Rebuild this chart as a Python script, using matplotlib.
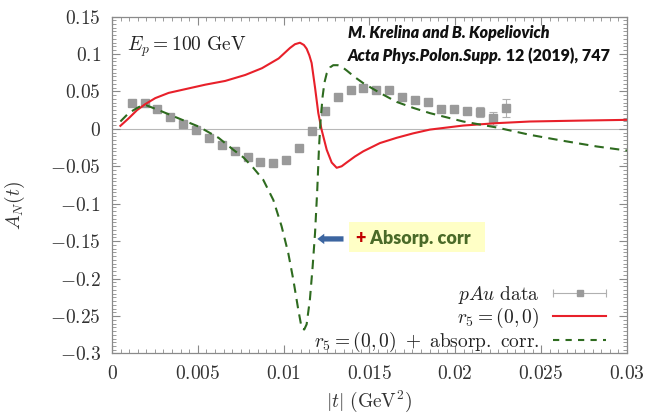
import matplotlib
matplotlib.use("Agg")
import matplotlib.pyplot as plt
from matplotlib.lines import Line2D
from matplotlib.legend_handler import HandlerLine2D, HandlerTuple
import numpy as np

plt.rcParams['mathtext.fontset'] = 'cm'
plt.rcParams['font.family'] = 'DejaVu Serif'

# pAu data
t_data = [0.00115, 0.0019, 0.00265, 0.0034, 0.00415, 0.0049, 0.00565, 0.0064,
          0.00715, 0.0079, 0.00865, 0.0094, 0.01015, 0.0109, 0.01165, 0.0124,
          0.01317, 0.0139, 0.01464, 0.0154, 0.01615, 0.0169, 0.01767, 0.0184,
          0.01918, 0.0199, 0.02068, 0.02144, 0.02217, 0.02293]
a_data = [0.034, 0.034, 0.026, 0.016, 0.007, -0.002, -0.012, -0.021,
          -0.030, -0.037, -0.044, -0.046, -0.041, -0.025, -0.003, 0.024,
          0.042, 0.052, 0.055, 0.052, 0.052, 0.043, 0.039, 0.036,
          0.027, 0.026, 0.024, 0.023, 0.014, 0.028]
a_err = [0.003, 0.003, 0.003, 0.003, 0.003, 0.003, 0.003, 0.003,
         0.003, 0.003, 0.003, 0.003, 0.003, 0.003, 0.003, 0.003,
         0.003, 0.003, 0.003, 0.003, 0.003, 0.003, 0.003, 0.003,
         0.003, 0.003, 0.004, 0.0067, 0.009, 0.012]

# r5 = (0,0)
t_red = [0.00049, 0.00097, 0.00146, 0.00194, 0.00252, 0.0033, 0.00427, 0.00544,
         0.0066, 0.00777, 0.00874, 0.00971, 0.01037, 0.01066, 0.01095, 0.01118,
         0.01134, 0.01150, 0.01163, 0.01183, 0.01202, 0.01221, 0.01251, 0.0128,
         0.01309, 0.01338, 0.01367, 0.01415, 0.01464, 0.01561, 0.01658, 0.01755,
         0.01852, 0.02046, 0.02241, 0.02435, 0.02726, 0.0300]
a_red = [0.004, 0.014, 0.025, 0.033, 0.041, 0.048, 0.053, 0.059,
         0.064, 0.072, 0.081, 0.094, 0.108, 0.113, 0.115, 0.112,
         0.107, 0.098, 0.088, 0.055, 0.021, -0.001, -0.028, -0.045,
         -0.052, -0.050, -0.045, -0.037, -0.030, -0.019, -0.012, -0.006,
         -0.001, 0.0044, 0.0076, 0.0098, 0.011, 0.012]

# r5 = (0,0) + absorp. corr.
t_green = [0.00049, 0.00097, 0.00155, 0.00194, 0.00272, 0.00388, 0.00505, 0.00621,
           0.00707, 0.00765, 0.00823, 0.00881, 0.0094, 0.00988, 0.01027, 0.01056,
           0.01085, 0.01105, 0.0112, 0.01134, 0.01153, 0.01169, 0.01183, 0.01196,
           0.01206, 0.01215, 0.01227, 0.01238, 0.01251, 0.0127, 0.01289, 0.01315,
           0.01338, 0.01367, 0.01415, 0.01464, 0.01561, 0.01658, 0.01755, 0.01852,
           0.02046, 0.02241, 0.02435, 0.02629, 0.02823, 0.0300]
a_green = [0.0098, 0.021, 0.029, 0.032, 0.025, 0.014, 0.003, -0.012,
           -0.028, -0.038, -0.052, -0.068, -0.095, -0.130, -0.166, -0.201,
           -0.241, -0.266, -0.268, -0.261, -0.228, -0.184, -0.139, -0.081,
           -0.025, 0.010, 0.043, 0.062, 0.074, 0.082, 0.085, 0.085,
           0.083, 0.078, 0.069, 0.061, 0.048, 0.036, 0.028, 0.021,
           0.0098, 0.0018, -0.008, -0.016, -0.0235, -0.029]

xticks = [0, 0.005, 0.01, 0.015, 0.02, 0.025, 0.03]
xticklabels = ['0', '0.005', '0.01', '0.015', '0.02', '0.025', '0.03']
yticks = [-0.3, -0.25, -0.2, -0.15, -0.1, -0.05, 0, 0.05, 0.1, 0.15]
yticklabels = ['-0.3', '-0.25', '-0.2', '-0.15', '-0.1', '-0.05', '0', '0.05', '0.1', '0.15']

red = '#e8202a'
green = '#2e6b1f'
gray = '#9a9a9a'

fig = plt.figure(figsize=(6.56, 4.15), dpi=100)
ax = fig.add_axes([0.1707, 0.1482, 0.785, 0.812])

ax.axhline(0, color='#b8b8b8', lw=0.8, zorder=1)

ax.errorbar(t_data, a_data, yerr=a_err, fmt='s', color=gray, ms=6, ecolor='#b0b0b0',
            elinewidth=0.8, capsize=3, capthick=0.8, zorder=3)
ax.plot(t_red, a_red, color=red, lw=1.5, zorder=4)
ax.plot(t_green, a_green, color=green, lw=1.5, dashes=(4.5, 3), zorder=4)

ax.set_xlim(0, 0.03)
ax.set_ylim(-0.3, 0.15)
ax.set_xticks(xticks)
ax.set_xticklabels(['$' + s + '$' for s in xticklabels])
ax.set_yticks(yticks)
ax.set_yticklabels(['$' + s + '$' for s in yticklabels])
ax.set_xticks(np.arange(0, 0.03001, 0.0005), minor=True)
ax.set_yticks(np.arange(-0.3, 0.1501, 0.005), minor=True)
ax.tick_params(which='both', direction='in', top=True, right=True, colors='#8a8a8a',
               labelcolor='#333333', labelsize=14, pad=8)
ax.tick_params(which='major', length=6, width=0.8)
ax.tick_params(which='minor', length=3, width=0.6)
for s in ax.spines.values():
    s.set_color('#8a8a8a')
    s.set_linewidth(0.9)

ax.set_xlabel(r'$|t|\ (\mathrm{GeV}^2)$', fontsize=14, color='#333333')
ax.xaxis.set_label_coords(0.5, -0.105)
ax.set_ylabel(r'$A_N(t)$', fontsize=14, color='#333333')
ax.yaxis.set_label_coords(-0.165, 0.44)

ax.text(0.0009, 0.110, r'$E_p = 100\ \mathrm{GeV}$', fontsize=14, color='#222222', va='center')

ax.text(0.01373, 0.128, 'M. Krelina and B. Kopeliovich', fontsize=11.5, family='Lato',
        weight='heavy', style='italic', va='center', color='#111111')
t1 = ax.text(0.01373, 0.097, 'Acta Phys.Polon.Supp.', fontsize=11.5, family='Lato',
             weight='heavy', style='italic', va='center', color='#111111')
fig.canvas.draw()
ax.annotate(' 12 (2019), 747', xy=(1, 0.5), xycoords=t1, va='center', ha='left',
            fontsize=11.5, family='Lato', weight='heavy', color='#111111')

# highlighted note with arrow
ax.add_patch(plt.Rectangle((0.01383, -0.165), 0.0079, 0.040, facecolor='#ffffc6',
                           edgecolor='none', zorder=2))
t2 = ax.text(0.0142, -0.146, '+', fontsize=13, family='Lato', weight='heavy',
             color='#c00000', va='center', zorder=3)
fig.canvas.draw()
ax.annotate(' Absorp. corr', xy=(1, 0.5), xycoords=t2, va='center', ha='left',
            fontsize=13, family='Lato', weight='heavy', color='#4a6a28', zorder=3)
ax.annotate('', xy=(0.0118, -0.147), xytext=(0.01365, -0.147),
            arrowprops=dict(arrowstyle='simple,head_width=0.75,head_length=0.5,tail_width=0.38',
                            color='#3c65a0', lw=0), zorder=3)

# legend
h_data = Line2D([], [], color='#b0b0b0', lw=0.8, marker='s', ms=4, mfc=gray, mec=gray)
h_caps = Line2D([], [], color='none', lw=0, marker='|', ms=6, mec='#b0b0b0', mew=0.8)
h_red = Line2D([], [], color=red, lw=1.5)
h_green = Line2D([], [], color=green, lw=1.5, dashes=(3, 3))
leg = ax.legend([(h_caps, h_data), h_red, h_green],
                [r'$pAu\ \mathrm{data}$', r'$r_5 = (0,0)$',
                 r'$r_5 = (0,0)\ +\ \mathrm{absorp.\ corr.}$'],
                loc='lower right', bbox_to_anchor=(0.974, -0.025), frameon=False,
                markerfirst=False, fontsize=14, handlelength=2.7, labelspacing=0.0,
                handletextpad=0.7, borderaxespad=0,
                handler_map={h_caps: HandlerLine2D(numpoints=2, marker_pad=0),
                             h_data: HandlerLine2D(numpoints=1),
                             tuple: HandlerTuple(ndivide=1, pad=0)})
for txt in leg.get_texts():
    txt.set_color('#222222')

fig.savefig('out.png', dpi=100)
